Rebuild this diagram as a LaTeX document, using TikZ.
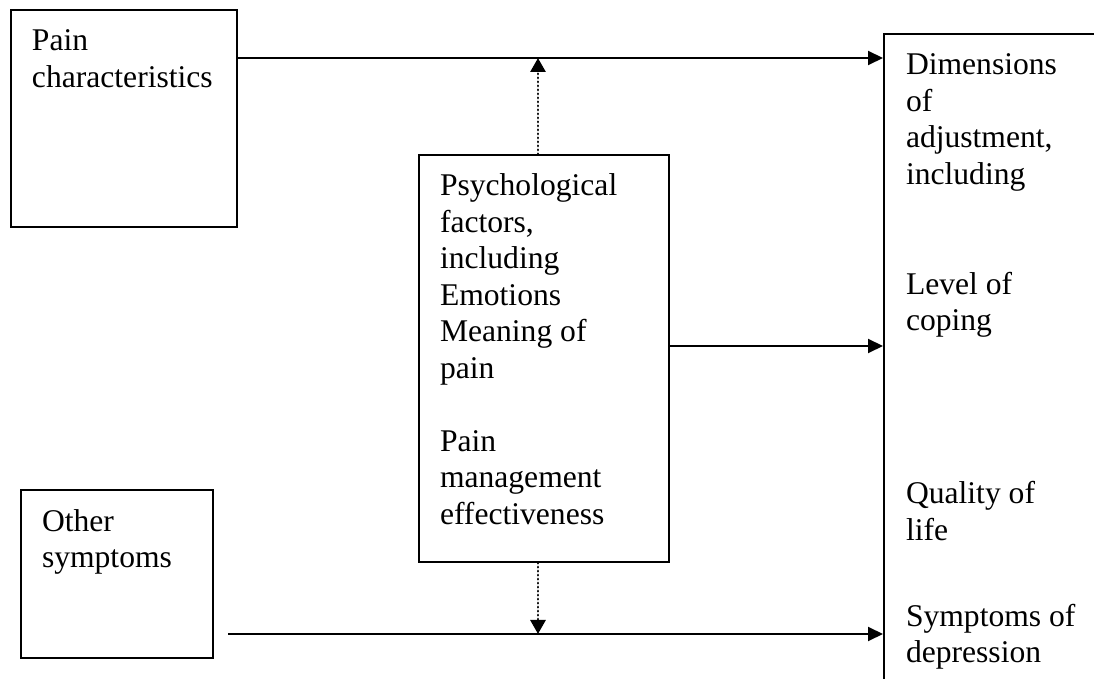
\documentclass[tikz,border=0pt]{standalone}
\usepackage{fontspec}
\setmainfont{Liberation Serif}
\usetikzlibrary{arrows.meta}

\tikzset{
  box/.style={draw, line width=1pt, anchor=north west, align=flush left,
    inner xsep=10.5pt, inner ysep=0pt, text height=20.5pt,
    font=\fontsize{15.8}{18.25}\selectfont},
  arr/.style={line width=1pt, -{Triangle[length=7.5pt,width=7pt]}},
  dotarr/.style={line width=1.4pt, dash pattern=on 0.1pt off 1.9pt, line cap=round,
    -{Triangle[length=7pt,width=7.5pt]}}
}

\begin{document}
\begin{tikzpicture}[x=0.5pt, y=-0.5pt]
            \useasboundingbox (0, 0) rectangle (1094, 679);
            \clip (0, 0) rectangle (1094, 679);

            % Boxes on the left
            \node (pain) at (10, 9) [box, text width=92pt, text depth=88pt]
                {Pain\\characteristics};
            \node (other) at (20, 489) [box, text width=75pt, text depth=63.5pt]
                {Other\\symptoms};

            % Middle box
            \node (psych) at (418, 154) [box, text width=104pt, text depth=183pt]
                {Psychological\\factors,\\including\\Emotions\\Meaning of\\pain\\[18.25pt]Pain\\management\\effectiveness};

            % Outcome box (runs off the page)
            \node (dims) at (883, 33) [box, inner xsep=11pt, text width=130pt, text depth=320pt]
                {Dimensions\\of\\adjustment,\\including\\[36.75pt]Level of\\coping\\[68.25pt]Quality of\\life\\[24.75pt]Symptoms of\\depression};

            % Meeting points on the arrows
            \coordinate (topin) at (883, 58);
            \coordinate (upmeet) at (538, 58);
            \coordinate (midin) at (883, 346);
            \coordinate (botin) at (883, 634);
            \coordinate (downmeet) at (538, 634);

            % Solid arrows
            \draw[arr] (pain.east |- topin) -- (dims.west |- topin);
            \draw[arr] (psych.east |- midin) -- (dims.west |- midin);
            \draw[arr, shorten <=7pt] (other.east |- botin) -- (dims.west |- botin);

            % Dotted arrows
            \draw[dotarr] (psych.north -| upmeet) -- (upmeet);
            \draw[dotarr] (psych.south -| downmeet) -- (downmeet);
\end{tikzpicture}
\end{document}
